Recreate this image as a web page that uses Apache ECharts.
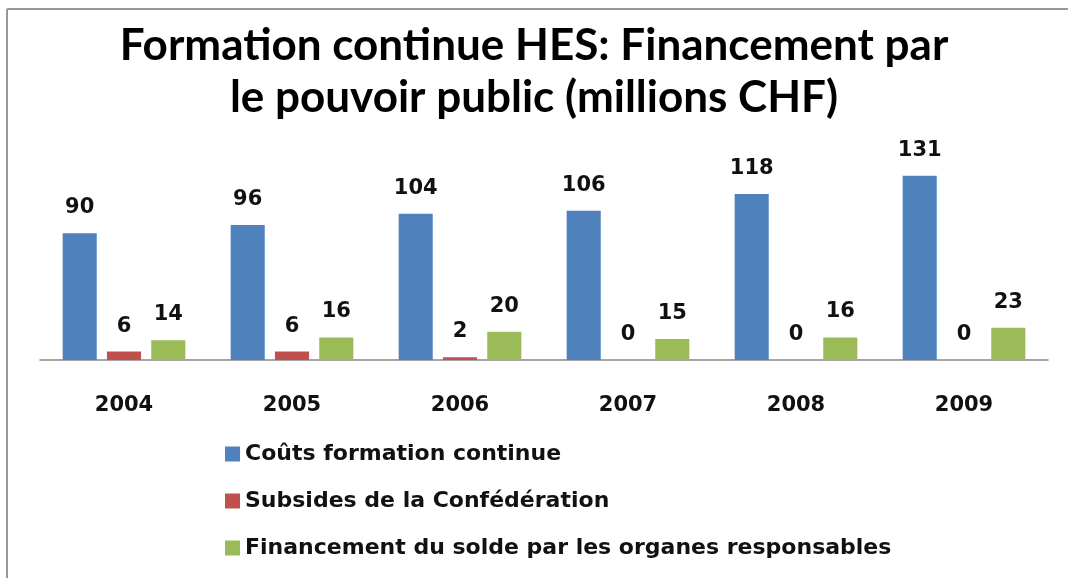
<!DOCTYPE html>
<html lang="fr">
<head>
    <meta charset="UTF-8">
    <title>Formation continue HES</title>
    <script src="https://cdn.jsdelivr.net/npm/echarts@6/dist/echarts.min.js"></script>
    <style>
        html, body { margin: 0; padding: 0; background: #fff; }
        #main { width: 1068px; height: 578px; }
    </style>
</head>
<body>
<div id="main"></div>
<script>
    // données (millions CHF)
    var years = ['2004', '2005', '2006', '2007', '2008', '2009'];
    var couts = [90, 96, 104, 106, 118, 131];
    var subsides = [6, 6, 2, 0, 0, 0];
    var solde = [14, 16, 20, 15, 16, 23];
    var seriesNames = [
        'Coûts formation continue',
        'Subsides de la Confédération',
        'Financement du solde par les organes responsables'
    ];
    var colors = ['#4f81bd', '#c0504d', '#9bbb59'];

    var myChart = echarts.init(document.getElementById('main'));

    var labelStyle = {
        show: true,
        position: 'top',
        distance: 15,
        color: '#111',
        fontFamily: 'DejaVu Sans',
        fontWeight: 'bold',
        fontSize: 21
    };

    function makeSeries(idx, data) {
        return {
            name: seriesNames[idx],
            type: 'bar',
            data: data,
            barGap: '30%',
            barCategoryGap: '27%',
            itemStyle: { color: colors[idx] },
            label: labelStyle
        };
    }

    var option = {
        animation: false,
        color: colors,
        title: {
            text: 'Formation continue HES: Financement par\nle pouvoir public (millions CHF)',
            left: 'center',
            top: 15,
            textStyle: {
                fontFamily: 'Lato',
                fontWeight: 'bold',
                fontSize: 44,
                lineHeight: 52,
                color: '#000'
            }
        },
        legend: {
            orient: 'vertical',
            left: 220,
            top: 438,
            itemWidth: 15,
            itemHeight: 15,
            itemGap: 25,
            icon: 'rect',
            textStyle: {
                fontFamily: 'DejaVu Sans',
                fontWeight: 'bold',
                fontSize: 22,
                color: '#111'
            },
            data: seriesNames
        },
        grid: {
            left: 40,
            right: 20,
            top: 163,
            bottom: 218,
            containLabel: false
        },
        xAxis: {
            type: 'category',
            data: years,
            axisLine: { lineStyle: { color: '#868686', width: 1.5 } },
            axisTick: { show: false },
            axisLabel: {
                margin: 35,
                color: '#111',
                fontFamily: 'DejaVu Sans',
                fontWeight: 'bold',
                fontSize: 21
            }
        },
        yAxis: {
            type: 'value',
            min: 0,
            max: 140,
            show: false,
            splitLine: { show: false }
        },
        series: [
            makeSeries(0, couts),
            makeSeries(1, subsides),
            makeSeries(2, solde)
        ],
        graphic: [
            { type: 'line', shape: { x1: 7, y1: 9, x2: 1068, y2: 9 }, style: { stroke: '#999', lineWidth: 2 } },
            { type: 'line', shape: { x1: 7, y1: 9, x2: 7, y2: 578 }, style: { stroke: '#999', lineWidth: 2 } }
        ]
    };

    myChart.setOption(option);
</script>
</body>
</html>
